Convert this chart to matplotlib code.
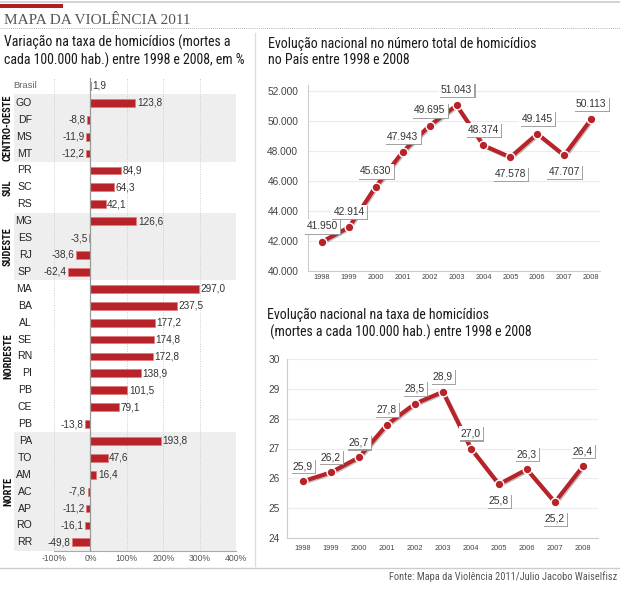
import matplotlib
matplotlib.use("Agg")
import matplotlib.pyplot as plt
import matplotlib.patheffects as pe
from matplotlib import font_manager
from matplotlib.patches import Rectangle
from matplotlib.lines import Line2D
import matplotlib.transforms as mtransforms

# region data
estados = ["GO", "DF", "MS", "MT", "PR", "SC", "RS", "MG", "ES", "RJ", "SP",
           "MA", "BA", "AL", "SE", "RN", "PI", "PB", "CE", "PB",
           "PA", "TO", "AM", "AC", "AP", "RO", "RR"]
variacao = [123.8, -8.8, -11.9, -12.2, 84.9, 64.3, 42.1, 126.6, -3.5, -38.6, -62.4,
            297.0, 237.5, 177.2, 174.8, 172.8, 138.9, 101.5, 79.1, -13.8,
            193.8, 47.6, 16.4, -7.8, -11.2, -16.1, -49.8]
brasil_var = 1.9
regioes = ["CENTRO-OESTE", "SUL", "SUDESTE", "NORDESTE", "NORTE"]
tamanho_regiao = [4, 3, 4, 9, 7]

anos = [1998, 1999, 2000, 2001, 2002, 2003, 2004, 2005, 2006, 2007, 2008]
homicidios = [41950, 42914, 45630, 47943, 49695, 51043, 48374, 47578, 49145, 47707, 50113]
taxa = [25.9, 26.2, 26.7, 27.8, 28.5, 28.9, 27.0, 25.8, 26.3, 25.2, 26.4]
# endregion

names = {f.name for f in font_manager.fontManager.ttflist}
cond = "Roboto"
for n in ["Roboto Condensed", "DejaVu Sans Condensed", "Liberation Sans Narrow", "Open Sans Condensed"]:
    if n in names:
        cond = n
        break
is_cond = cond != "Roboto"

plt.rcParams["font.family"] = ["Liberation Sans", "DejaVu Sans"]

W, H = 620, 600
fig = plt.figure(figsize=(6.2, 6.0), dpi=100)


def box(x0, y0, x1, y1):
    return [x0 / W, 1 - y1 / H, (x1 - x0) / W, (y1 - y0) / H]


def fx(x):
    return x / W


def fy(y):
    return 1 - y / H


RED = "#b8232a"

# region header
fig.add_artist(Line2D([0, 1], [fy(1.5), fy(1.5)], color="#cccccc", lw=1.2))
fig.add_artist(Rectangle((0, fy(7.5)), fx(63), 3 / H, color="#b01e23", lw=0))
fig.text(fx(4), fy(20), "MAPA DA VIOLÊNCIA 2011", family="Liberation Serif",
         fontsize=11, color="#555555", va="center")
fig.add_artist(Line2D([0, 1], [fy(28), fy(28)], color="#999999", lw=0.6, ls=(0, (1, 1.5))))
fig.add_artist(Line2D([fx(255), fx(255)], [fy(33), fy(566)], color="#dddddd", lw=1))
fig.add_artist(Line2D([0, 1], [fy(568), fy(568)], color="#cccccc", lw=1))
fig.text(fx(617), fy(577), "Fonte: Mapa da Violência 2011/Julio Jacobo Waiselfisz",
         family=cond, fontsize=7.5 if is_cond else 6.6, color="#555555",
         ha="right", va="center")

tsize = 10.0 if is_cond else 8.6
fig.text(fx(4), fy(51), "Variação na taxa de homicídios (mortes a\ncada 100.000 hab.) entre 1998 e 2008, em %",
         family=cond, fontsize=tsize, color="#1a1a1a", va="center", linespacing=1.25)
fig.text(fx(268), fy(52), "Evolução nacional no número total de homicídios\nno País entre 1998 e 2008",
         family=cond, fontsize=tsize, color="#1a1a1a", va="center", linespacing=1.25)
fig.text(fx(267), fy(324), "Evolução nacional na taxa de homicídios\n (mortes a cada 100.000 hab.) entre 1998 e 2008",
         family=cond, fontsize=tsize, color="#1a1a1a", va="center", linespacing=1.25)
# endregion

# region bar chart
ax = fig.add_axes(box(54, 78, 236, 551))
pos = list(range(1, len(estados) + 1))
ax.set_xlim(-100, 400)
ax.set_ylim(27.51, -0.47)

trans = mtransforms.blended_transform_factory(fig.transFigure, ax.transData)
start = 1
for nome, n in zip(regioes, tamanho_regiao):
    if nome in ("CENTRO-OESTE", "SUDESTE", "NORTE"):
        ax.add_patch(Rectangle((fx(14), start - 0.5), fx(236) - fx(14), n, transform=trans,
                               facecolor="#eeeeee", lw=0, zorder=0, clip_on=False))
    ax.text(fx(8), start - 0.5 + n / 2, nome, transform=trans, rotation=90, family=cond,
            fontweight="bold", fontsize=7.5 if is_cond else 6.2, ha="center", va="center",
            color="#111111")
    start += n

for g in [-100, 100, 200, 300]:
    ax.axvline(g, color="#cccccc", lw=0.7, ls=(0, (1, 1.5)), zorder=1)
ax.axvline(0, color="#999999", lw=0.9, zorder=3)

ax.barh([0] + pos, [brasil_var] + variacao, height=0.46, color=RED,
        edgecolor="#e07a7a", linewidth=0.5, zorder=2)

for p, v in zip([0] + pos, [brasil_var] + variacao):
    lab = f"{v:.1f}".replace(".", ",")
    if v >= 0:
        ax.text(v + 4, p, lab, ha="left", va="center", fontsize=7.2, color="#333333")
    else:
        ax.text(v - 4, p, lab, ha="right", va="center", fontsize=7.2, color="#333333")

ax.text(fx(37), 0, "Brasil", transform=trans, ha="right", va="center", fontsize=6.8, color="#666666")
for p, e in zip(pos, estados):
    ax.text(fx(32), p, e, transform=trans, ha="right", va="center", fontsize=7.6, color="#222222")

for s in ["top", "right", "left"]:
    ax.spines[s].set_visible(False)
ax.spines["bottom"].set_color("#aaaaaa")
ax.set_yticks([])
ax.set_xticks([-100, 0, 100, 200, 300, 400])
ax.set_xticklabels(["-100%", "0%", "100%", "200%", "300%", "400%"])
ax.tick_params(axis="x", length=0, pad=2, labelsize=6.2, labelcolor="#555555")
ax.patch.set_alpha(0)
# endregion


def linha(ax, vals, fmt, below):
    ax.plot(anos, vals, color=RED, lw=3.0, solid_joinstyle="round", solid_capstyle="round", zorder=3,
            path_effects=[pe.SimpleLineShadow(offset=(0.8, -0.8), alpha=0.25), pe.Normal()])
    ax.plot(anos, vals, "o", color=RED, ms=6.3, mec="white", mew=1.0, zorder=4)
    for a, v in zip(anos, vals):
        dy = -12 if a in below else 11
        t = ax.annotate(fmt(v), (a, v), xytext=(0, dy), textcoords="offset points",
                        ha="center", va="center", fontsize=7.4, color="#333333", zorder=5,
                        bbox=dict(boxstyle="square,pad=0.22", fc="white", ec="none"))
        t.get_bbox_patch().set_path_effects(
            [pe.SimplePatchShadow(offset=(0.8, -0.8), shadow_rgbFace="#999999", alpha=0.9), pe.Normal()])
    for s in ["top", "right"]:
        ax.spines[s].set_visible(False)
    ax.spines["left"].set_color("#cccccc")
    ax.spines["bottom"].set_color("#cccccc")
    ax.grid(axis="y", color="#ececec", lw=0.8)
    ax.set_axisbelow(True)
    ax.set_xticks(anos)
    ax.tick_params(axis="both", length=0)
    ax.tick_params(axis="x", labelsize=5.3, labelcolor="#444444")
    ax.tick_params(axis="y", labelsize=7.3, labelcolor="#444444")


# region homicidios
ax2 = fig.add_axes(box(308, 85, 600, 271))
ax2.set_xlim(1997.48, 2008.33)
ax2.set_ylim(40000, 52400)
ax2.set_yticks(range(40000, 52001, 2000))
ax2.set_yticklabels([f"{v:,}".replace(",", ".") for v in range(40000, 52001, 2000)])
linha(ax2, homicidios, lambda v: f"{v:,}".replace(",", "."), [2005, 2007])
ax2.tick_params(axis="x", pad=2)
ax2.tick_params(axis="y", pad=7)
# endregion

# region taxa
ax3 = fig.add_axes(box(287, 359, 598, 538))
ax3.set_xlim(1997.43, 2008.54)
ax3.set_ylim(24, 30)
ax3.set_yticks(range(24, 31))
linha(ax3, taxa, lambda v: f"{v:.1f}".replace(".", ","), [2005, 2007])
ax3.tick_params(axis="x", pad=5)
ax3.tick_params(axis="y", pad=5)
# endregion

fig.savefig("out.png", dpi=100)
